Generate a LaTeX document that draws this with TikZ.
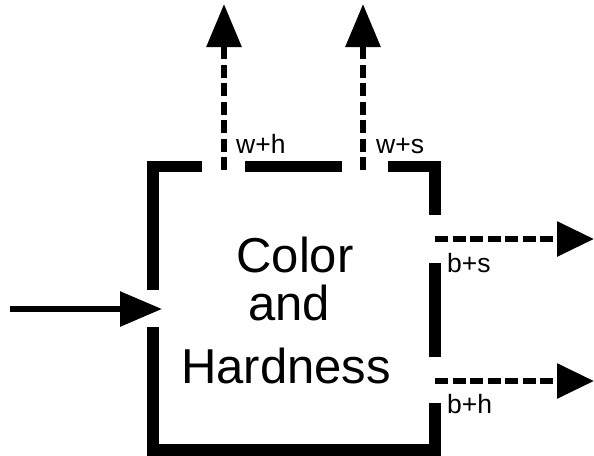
\documentclass[tikz,border=0pt]{standalone}
\usepackage{fontspec}
\setmainfont{Liberation Sans}
\usetikzlibrary{arrows.meta}
\begin{document}
\begin{tikzpicture}[x=1pt,y=-1pt,
  boxline/.style={line width=11.5pt,line cap=butt,line join=miter},
  inarrow/.style={line width=6pt,-{Triangle[length=42pt,width=34pt]}},
  outup/.style={line width=6pt,dash pattern=on 13pt off 5.5pt,-{Triangle[length=43pt,width=34pt]}},
  outright/.style={line width=6pt,dash pattern=on 13pt off 4.5pt,-{Triangle[length=37pt,width=34pt]}},
  bigtext/.style={font=\fontsize{49}{49}\selectfont,anchor=base,inner sep=0pt},
  flowlabel/.style={font=\fontsize{26.5}{26.5}\selectfont,anchor=base west,inner sep=0pt}]
\useasboundingbox (0,0) rectangle (594,455);
% box outline segments
\draw[boxline] (202,166.5) -- (153,166.5) -- (153,290);
\draw[boxline] (153,327) -- (153,450) -- (435,450) -- (435,403);
\draw[boxline] (435,357) -- (435,263);
\draw[boxline] (435,215) -- (435,166.5) -- (388,166.5);
\draw[boxline] (245,166.5) -- (342,166.5);
% text
\node[bigtext] (t1) at (295,272) {Color};
\node[bigtext] (t2) at (289,320) {and};
\node[bigtext] (t3) at (286,383) {Hardness};
% coordinates
\coordinate (inS) at (10,309);
\coordinate (inE) at (162,309);
\coordinate (u1S) at (224,170);
\coordinate (u1E) at (224,4);
\coordinate (u2S) at (363,170);
\coordinate (u2E) at (363,4);
\coordinate (r1S) at (435,239);
\coordinate (r1E) at (594,239);
\coordinate (r2S) at (435,381);
\coordinate (r2E) at (594,381);
% arrows
\draw[inarrow] (inS) -- (inE);
\draw[outup] (u1S) -- (u1E);
\draw[outup] (u2S) -- (u2E);
\draw[outright] (r1S) -- (r1E);
\draw[outright] (r2S) -- (r2E);
% labels
\node[flowlabel] (lwh) at (236,153) {w+h};
\node[flowlabel] (lws) at (376,153) {w+s};
\node[flowlabel] (lbs) at (447,272) {b+s};
\node[flowlabel] (lbh) at (447,413) {b+h};
\end{tikzpicture}
\end{document}
